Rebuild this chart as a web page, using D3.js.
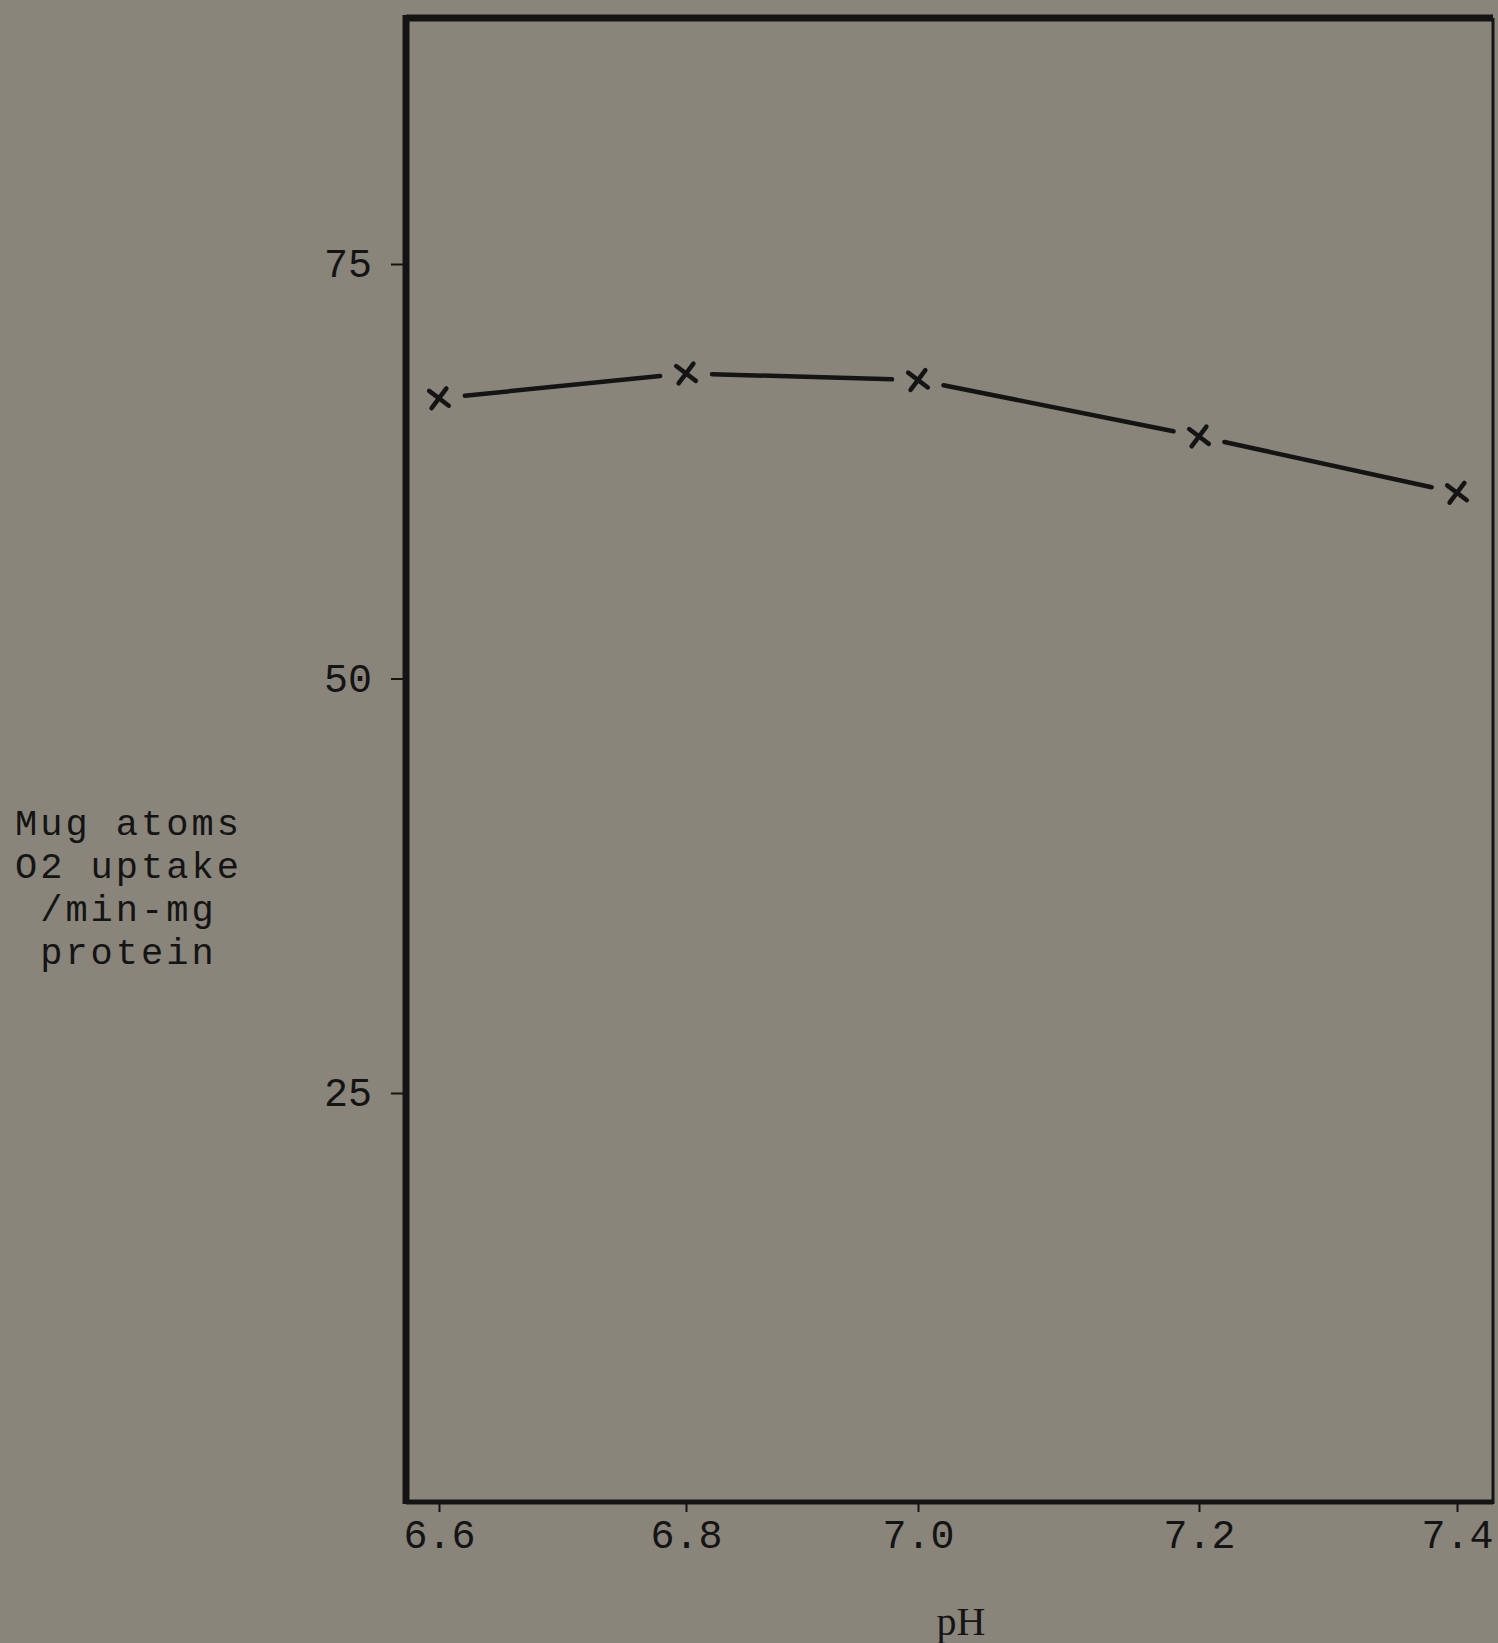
<!DOCTYPE html>
<html>
<head>
<meta charset="utf-8">
<script src="https://cdn.jsdelivr.net/npm/d3@7"></script>
<style>
  html, body { margin:0; padding:0; background:#8a857b; }
  svg { display:block; }
  .tick text { fill:#141414; }
</style>
</head>
<body>
<div class="canvas"></div>
<script>
//data
var phValues = [6.6, 6.8, 7.0, 7.2, 7.4];
var uptakeValues = [66.9, 68.4, 68.0, 64.6, 61.2];
var yTickValues = [25, 50, 75];
var yLabelLines = ['Mug atoms', 'O2 uptake', ' /min-mg', ' protein'];
var xLabel = 'pH';

var pageWidth = 1498,
    pageHeight = 1643;
//the hand drawn frame
var frame = {l:406, t:18, r:1493, b:1502};
var ink = '#141414';
var gap = 26; //the line stops short of each cross

var svg = d3.select('.canvas')
    .append('svg')
    .attr('width', pageWidth)
    .attr('height', pageHeight);

svg.append('rect')
    .attr('width', pageWidth)
    .attr('height', pageHeight)
    .style('fill', '#8a857b');

//scales: the ticks on the original were spaced by hand, so the x scale is piecewise
var x = d3.scaleLinear().domain(phValues).range([439, 686, 918, 1199, 1457]);
var y = d3.scaleLinear().domain([25, 75]).range([1093, 264]);

//frame, sides have different pen weights
var sides = [
    {x1:frame.l, y1:frame.t, x2:frame.r, y2:frame.t, w:7},
    {x1:frame.l, y1:frame.t - 3, x2:frame.l, y2:frame.b + 2, w:7},
    {x1:frame.l, y1:frame.b, x2:frame.r, y2:frame.b, w:5},
    {x1:frame.r, y1:frame.t, x2:frame.r, y2:frame.b + 2, w:3}
];
svg.selectAll('line.frame')
    .data(sides)
    .enter()
    .append('line')
    .attr('class', 'frame')
    .attr('x1', function(d){ return d.x1; })
    .attr('y1', function(d){ return d.y1; })
    .attr('x2', function(d){ return d.x2; })
    .attr('y2', function(d){ return d.y2; })
    .style('stroke', ink)
    .style('stroke-width', function(d){ return d.w; });

//x axis
var xAxis = d3.axisBottom(x)
    .tickValues(phValues)
    .tickSize(10)
    .tickPadding(8)
    .tickFormat(d3.format('.1f'));
var gx = svg.append('g')
    .attr('transform', 'translate(0,' + frame.b + ')')
    .call(xAxis);
gx.select('.domain').remove();
gx.selectAll('.tick line').style('stroke', ink).style('stroke-width', 2);
gx.selectAll('.tick text')
    .style('font-family', '"Liberation Mono", "DejaVu Sans Mono", monospace')
    .style('font-size', '40px');

//y axis
var yAxis = d3.axisLeft(y)
    .tickValues(yTickValues)
    .tickSize(15)
    .tickPadding(19);
var gy = svg.append('g')
    .attr('transform', 'translate(' + frame.l + ',0)')
    .call(yAxis);
gy.select('.domain').remove();
gy.selectAll('.tick line').style('stroke', ink).style('stroke-width', 2);
gy.selectAll('.tick text')
    .style('font-family', '"Liberation Mono", "DejaVu Sans Mono", monospace')
    .style('font-size', '40px');

//points
var points = phValues.map(function(p, i){
    return {px: x(p), py: y(uptakeValues[i])};
});

//broken line segments between neighbouring crosses
var segments = [];
for(var i = 0; i < points.length - 1; i++){
    var a = points[i], b = points[i+1];
    var dx = b.px - a.px, dy = b.py - a.py;
    var len = Math.sqrt(dx*dx + dy*dy);
    var ux = dx/len, uy = dy/len;
    segments.push([
        [a.px + ux*gap, a.py + uy*gap],
        [b.px - ux*gap, b.py - uy*gap]
    ]);
}
svg.selectAll('path.seg')
    .data(segments)
    .enter()
    .append('path')
    .attr('class', 'seg')
    .attr('d', d3.line())
    .style('fill', 'none')
    .style('stroke', ink)
    .style('stroke-width', 4.5)
    .style('stroke-linecap', 'round');

//crosses
svg.selectAll('path.pt')
    .data(points)
    .enter()
    .append('path')
    .attr('class', 'pt')
    .attr('transform', function(d){ return 'translate(' + d.px + ',' + d.py + ') rotate(-8)'; })
    .attr('d', d3.symbol(d3.symbolTimes, 200))
    .style('fill', 'none')
    .style('stroke', ink)
    .style('stroke-width', 4.5)
    .style('stroke-linecap', 'round');

//y label, typewriter lines
svg.append('text')
    .style('font-family', '"Liberation Mono", "DejaVu Sans Mono", monospace')
    .style('font-size', '37px')
    .style('letter-spacing', '3px')
    .style('fill', ink)
    .style('white-space', 'pre')
    .selectAll('tspan')
    .data(yLabelLines)
    .enter()
    .append('tspan')
    .attr('x', 15)
    .attr('y', function(d, i){ return 835 + i*43; })
    .text(function(d){ return d; });

//x label
svg.append('text')
    .attr('x', 961)
    .attr('y', 1635)
    .attr('text-anchor', 'middle')
    .style('font-family', '"Liberation Serif", "DejaVu Serif", serif')
    .style('font-size', '40px')
    .style('fill', ink)
    .text(xLabel);
</script>
</body>
</html>
